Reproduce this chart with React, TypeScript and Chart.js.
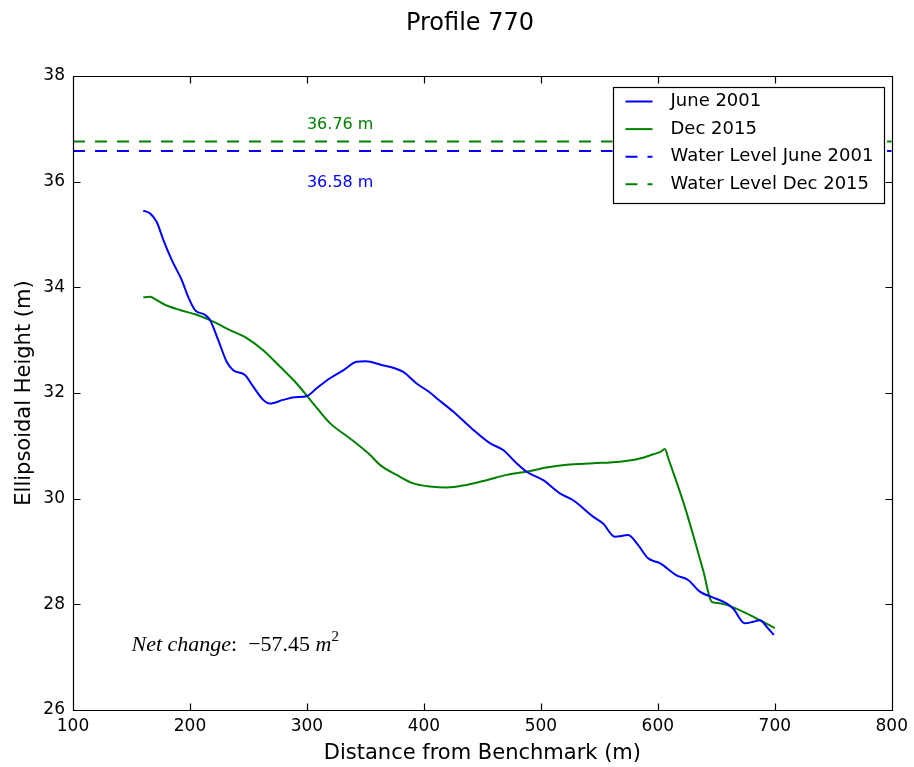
import React, { useEffect, useRef } from "react";
import { Chart, registerables } from "chart.js";

Chart.register(...registerables);

// ---- Data ----
const june2001X = [160.1, 165.8, 171.5, 177.2, 184.4, 192.9, 198.5, 204.3, 212.8, 217.1, 224.2, 231.4, 237.0, 247.0, 254.1, 262.6, 268.4, 279.7, 289.7, 299.7, 308.3, 319.7, 331.0, 342.5, 350.4, 362.4, 382.3, 393.8, 405.1, 410.9, 425.0, 440.8, 456.4, 467.8, 479.2, 487.8, 502.0, 516.2, 527.6, 544.7, 553.2, 563.2, 574.6, 583.2, 591.7, 601.7, 616.0, 625.9, 635.9, 645.9, 658.7, 664.4, 674.4, 681.5, 687.2, 694.0, 699.1];
const june2001Y = [35.45, 35.40, 35.24, 34.90, 34.52, 34.14, 33.82, 33.57, 33.48, 33.38, 33.00, 32.59, 32.43, 32.34, 32.12, 31.87, 31.80, 31.87, 31.92, 31.94, 32.09, 32.28, 32.43, 32.59, 32.60, 32.54, 32.40, 32.18, 32.01, 31.90, 31.65, 31.33, 31.05, 30.92, 30.67, 30.51, 30.35, 30.10, 29.97, 29.66, 29.53, 29.28, 29.31, 29.12, 28.87, 28.78, 28.55, 28.46, 28.24, 28.14, 28.02, 27.92, 27.64, 27.67, 27.70, 27.55, 27.42];

const dec2015X = [160.1, 165.8, 171.5, 178.6, 191.5, 205.7, 219.9, 234.2, 248.5, 262.6, 276.9, 291.2, 305.4, 319.7, 336.8, 353.8, 362.4, 376.7, 390.9, 405.1, 419.4, 436.5, 453.6, 470.7, 487.8, 504.9, 522.0, 544.7, 567.5, 584.6, 596.0, 602.5, 606.0, 609.0, 615.0, 623.0, 631.0, 639.0, 646.0, 649.5, 658.7, 675.8, 687.2, 700.0];
const dec2015Y = [33.81, 33.82, 33.76, 33.67, 33.57, 33.48, 33.35, 33.19, 33.04, 32.81, 32.50, 32.18, 31.80, 31.43, 31.14, 30.83, 30.64, 30.45, 30.29, 30.23, 30.21, 30.26, 30.35, 30.45, 30.51, 30.59, 30.64, 30.67, 30.70, 30.76, 30.84, 30.89, 30.94, 30.76, 30.38, 29.85, 29.25, 28.62, 28.05, 28.03, 27.99, 27.83, 27.70, 27.55];

const waterLevelJune2001 = 36.58;
const waterLevelDec2015 = 36.76;
const xRange = [100, 800];
const yRange = [26, 38];
const xTicks = [100, 200, 300, 400, 500, 600, 700, 800];
const yTicks = [26, 28, 30, 32, 34, 36, 38];
const seriesLabels = ["June 2001", "Dec 2015", "Water Level June 2001", "Water Level Dec 2015"];
const netChange = -57.45;
const labelX = 300;
const netChangeAt = [150, 27.23];

const BLUE = "#0000ff";
const GREEN = "#008000";
const FONT = "'DejaVu Sans', sans-serif";
const DASH = [12, 10];

const decor = {
  id: "decor",
  afterDatasetsDraw(chart: any) {
    const { ctx, chartArea: a, scales } = chart;
    const x = scales.x;
    const y = scales.y;
    ctx.save();
    ctx.strokeStyle = "#000";
    ctx.lineWidth = 1.2;
    const L = Math.round(a.left) + 0.5;
    const R = Math.round(a.right) + 0.5;
    const T = Math.round(a.top) + 0.5;
    const B = Math.round(a.bottom) + 0.5;
    ctx.beginPath();
    ctx.rect(L, T, R - L, B - T);
    // tick marks inward, all four sides
    const tl = 7;
    for (const v of xTicks) {
      const p = Math.round(x.getPixelForValue(v)) + 0.5;
      ctx.moveTo(p, B); ctx.lineTo(p, B - tl);
      ctx.moveTo(p, T); ctx.lineTo(p, T + tl);
    }
    for (const v of yTicks) {
      const p = Math.round(y.getPixelForValue(v)) + 0.5;
      ctx.moveTo(L, p); ctx.lineTo(L + tl, p);
      ctx.moveTo(R, p); ctx.lineTo(R - tl, p);
    }
    ctx.stroke();

    // water-level labels
    ctx.font = `16px ${FONT}`;
    ctx.textBaseline = "middle";
    ctx.textAlign = "left";
    ctx.fillStyle = GREEN;
    ctx.fillText(`${waterLevelDec2015.toFixed(2)} m`, x.getPixelForValue(labelX), y.getPixelForValue(waterLevelDec2015 + 0.31));
    ctx.fillStyle = BLUE;
    ctx.fillText(`${waterLevelJune2001.toFixed(2)} m`, x.getPixelForValue(labelX), y.getPixelForValue(waterLevelJune2001 - 0.6));

    // net change (mathtext-like)
    let cx = x.getPixelForValue(netChangeAt[0]);
    const cy = y.getPixelForValue(netChangeAt[1]);
    ctx.fillStyle = "#000";
    const parts: [string, string, number][] = [
      ["Net change", "italic 22px 'Liberation Serif', serif", 0],
      [":", "22px 'Liberation Serif', serif", 0],
      ["  \u2212" + Math.abs(netChange).toFixed(2) + " ", "22px 'Liberation Serif', serif", 0],
      ["m", "italic 22px 'Liberation Serif', serif", 0],
      ["2", "15px 'Liberation Serif', serif", -8],
    ];
    for (const [t, f, dy] of parts) {
      ctx.font = f;
      ctx.fillText(t, cx, cy + dy);
      cx += ctx.measureText(t).width;
    }

    // legend
    const lw = 271, lh = 116;
    const lx = R - 9 - lw;
    const ly = T + 10;
    ctx.fillStyle = "#fff";
    ctx.fillRect(lx, ly, lw, lh);
    ctx.strokeStyle = "#000";
    ctx.lineWidth = 1.2;
    ctx.strokeRect(Math.round(lx) + 0.5, Math.round(ly) + 0.5, lw, lh);
    const colors = [BLUE, GREEN, BLUE, GREEN];
    const dashed = [false, false, true, true];
    ctx.font = `18px ${FONT}`;
    ctx.textBaseline = "middle";
    for (let i = 0; i < seriesLabels.length; i++) {
      const ry = ly + 15 + i * 27.6;
      ctx.strokeStyle = colors[i];
      ctx.lineWidth = 2;
      ctx.setLineDash(dashed[i] ? DASH : []);
      ctx.beginPath();
      ctx.moveTo(lx + 13, ry);
      ctx.lineTo(lx + 40, ry);
      ctx.stroke();
      ctx.setLineDash([]);
      ctx.fillStyle = "#000";
      ctx.fillText(seriesLabels[i], lx + 58, ry);
    }
    ctx.restore();
  },
  afterDraw(chart: any) {
    const { ctx } = chart;
    ctx.save();
    ctx.font = `24px ${FONT}`;
    ctx.fillStyle = "#000";
    ctx.textAlign = "center";
    ctx.textBaseline = "middle";
    ctx.fillText("Profile 770", 470, 24);
    ctx.restore();
  },
};

export default function App() {
  const ref = useRef<HTMLCanvasElement | null>(null);
  useEffect(() => {
    if (!ref.current) return;
    const line = (xs: number[], ys: number[]) => xs.map((v, i) => ({ x: v, y: ys[i] }));
    const chart = new Chart(ref.current, {
      type: "line",
      data: {
        datasets: [
          {
            label: seriesLabels[0],
            data: line(june2001X, june2001Y),
            borderColor: BLUE,
            borderWidth: 2,
            pointRadius: 0,
            cubicInterpolationMode: "monotone",
            fill: false,
          },
          {
            label: seriesLabels[1],
            data: line(dec2015X, dec2015Y),
            borderColor: GREEN,
            borderWidth: 2,
            pointRadius: 0,
            cubicInterpolationMode: "monotone",
            fill: false,
          },
          {
            label: seriesLabels[2],
            data: line(xRange, [waterLevelJune2001, waterLevelJune2001]),
            borderColor: BLUE,
            borderWidth: 2,
            borderDash: DASH,
            pointRadius: 0,
            fill: false,
          },
          {
            label: seriesLabels[3],
            data: line(xRange, [waterLevelDec2015, waterLevelDec2015]),
            borderColor: GREEN,
            borderWidth: 2,
            borderDash: DASH,
            pointRadius: 0,
            fill: false,
          },
        ],
      },
      options: {
        animation: false,
        responsive: false,
        events: [],
        layout: { padding: { top: 76, right: 22, left: 0, bottom: 0 } },
        plugins: { legend: { display: false }, tooltip: { enabled: false }, title: { display: false } },
        scales: {
          x: {
            type: "linear",
            min: xRange[0],
            max: xRange[1],
            afterFit: (s: any) => { s.height = 57; },
            afterBuildTicks: (s: any) => { s.ticks = xTicks.map((v) => ({ value: v })); },
            grid: { display: false, drawTicks: false },
            border: { display: false },
            ticks: { color: "#000", font: { family: FONT, size: 17 }, padding: 6, maxRotation: 0 },
            title: {
              display: true,
              text: "Distance from Benchmark (m)",
              color: "#000",
              font: { family: FONT, size: 21 },
              padding: { top: 0, bottom: 1 },
            },
          },
          y: {
            type: "linear",
            min: yRange[0],
            max: yRange[1],
            afterFit: (s: any) => { s.width = 73; },
            afterBuildTicks: (s: any) => { s.ticks = yTicks.map((v) => ({ value: v })); },
            grid: { display: false, drawTicks: false },
            border: { display: false },
            ticks: { color: "#000", font: { family: FONT, size: 17 }, padding: 8 },
            title: {
              display: true,
              text: "Ellipsoidal Height (m)",
              color: "#000",
              font: { family: FONT, size: 21 },
              padding: { top: 12, bottom: 0 },
            },
          },
        },
      },
      plugins: [decor],
    } as any);
    return () => chart.destroy();
  }, []);
  return (
    <div style={{ position: "absolute", left: 0, top: 0, width: 914, height: 767, background: "#fff" }}>
      <canvas ref={ref} width={914} height={767} style={{ display: "block" }} />
    </div>
  );
}
